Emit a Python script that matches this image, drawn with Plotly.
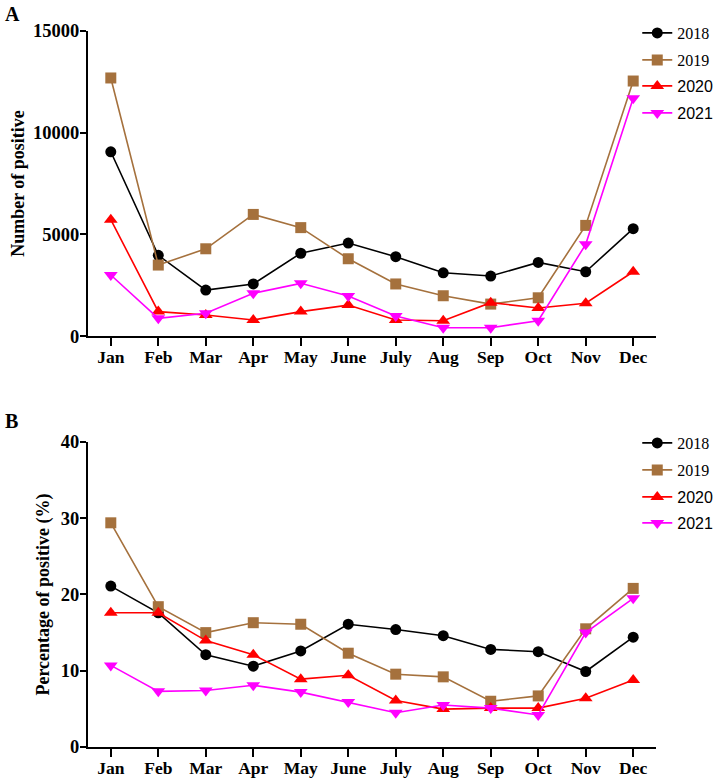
import plotly.graph_objects as go
from plotly.subplots import make_subplots

months = ['Jan', 'Feb', 'Mar', 'Apr', 'May', 'June', 'July', 'Aug', 'Sep', 'Oct', 'Nov', 'Dec']
years = ['2018', '2019', '2020', '2021']

# panel A: number of positive
count_2018 = [9060, 3970, 2260, 2560, 4070, 4570, 3900, 3110, 2950, 3620, 3160, 5280]
count_2019 = [12690, 3490, 4290, 5980, 5330, 3800, 2560, 1980, 1570, 1880, 5440, 12540]
count_2020 = [5720, 1200, 1030, 790, 1200, 1520, 790, 750, 1640, 1380, 1610, 3160]
count_2021 = [3000, 870, 1120, 2100, 2590, 1970, 980, 410, 410, 750, 4510, 11690]

# panel B: percentage of positive
pct_2018 = [21.1, 17.6, 12.1, 10.6, 12.6, 16.1, 15.4, 14.6, 12.8, 12.5, 9.9, 14.4]
pct_2019 = [29.4, 18.4, 15.0, 16.3, 16.1, 12.3, 9.55, 9.2, 6.0, 6.7, 15.5, 20.8]
pct_2020 = [17.6, 17.6, 13.95, 12.1, 8.9, 9.4, 6.1, 4.97, 5.1, 5.1, 6.4, 8.8]
pct_2021 = [10.7, 7.3, 7.4, 8.1, 7.2, 5.9, 4.5, 5.5, 5.1, 4.2, 15.0, 19.5]

counts = [count_2018, count_2019, count_2020, count_2021]
pcts = [pct_2018, pct_2019, pct_2020, pct_2021]

line_colors = ['black', '#A5713D', '#FF0000', '#FF00FF']
symbols = ['circle', 'square', 'triangle-up', 'triangle-down']
sizes = [11, 11, 12, 12]
serif = 'Liberation Serif, Times New Roman, serif'
sans = 'Liberation Sans, Arial, sans-serif'
# first two years are set in serif, last two in sans, like the original figure
legend_fonts = [serif, serif, sans, sans]

fig = make_subplots(rows=2, cols=1, vertical_spacing=0.148)

# one legend per entry so each can get its own font
legend_ids_a = ['legend', 'legend2', 'legend3', 'legend4']
legend_ids_b = ['legend5', 'legend6', 'legend7', 'legend8']

for i, yr in enumerate(years):
    fig.add_trace(go.Scatter(x=months, y=counts[i], name=yr, mode='lines+markers',
                             line=dict(color=line_colors[i], width=1.6),
                             marker=dict(symbol=symbols[i], size=sizes[i], color=line_colors[i]),
                             legend=legend_ids_a[i], showlegend=True), row=1, col=1)
    fig.add_trace(go.Scatter(x=months, y=pcts[i], name=yr, mode='lines+markers',
                             line=dict(color=line_colors[i], width=1.6),
                             marker=dict(symbol=symbols[i], size=sizes[i], color=line_colors[i]),
                             legend=legend_ids_b[i], showlegend=True), row=2, col=1)

axis_style = dict(showline=True, linecolor='black', linewidth=2, ticks='outside',
                  tickcolor='black', tickwidth=2, showgrid=False, zeroline=False, automargin=False)

fig.update_xaxes(range=[-0.48, 11.48], ticklen=8, ticklabelstandoff=-4,
                 tickfont=dict(family=serif, size=17.5, color='black', weight='bold'), **axis_style)
fig.update_yaxes(ticklen=6, ticklabelstandoff=-3, tickformat='d',
                 tickfont=dict(family=serif, size=18.5, color='black', weight='bold'), **axis_style)
fig.update_yaxes(range=[0, 15000], tickvals=[0, 5000, 10000, 15000], row=1, col=1,
                 title=dict(text='<b>Number of positive</b>', font=dict(family=serif, size=18, color='black'),
                            standoff=4))
fig.update_yaxes(range=[0, 40], tickvals=[0, 10, 20, 30, 40], row=2, col=1,
                 title=dict(text='<b>Percentage of positive (%)</b>', font=dict(family=serif, size=18, color='black'),
                            standoff=6))

# legend item centres in pixels, converted to paper fractions of the plot area
plot_top, plot_bottom = 31, 747
legend_px_a = [33, 60, 86, 113]
legend_px_b = [443, 470, 497, 523]
legends = {}
for ids, pxs in [(legend_ids_a, legend_px_a), (legend_ids_b, legend_px_b)]:
    for i, (lid, py) in enumerate(zip(ids, pxs)):
        legends[lid] = dict(x=0.967, xanchor='left', y=(plot_bottom - py) / (plot_bottom - plot_top),
                            yanchor='middle', bgcolor='rgba(0,0,0,0)', itemwidth=30,
                            font=dict(family=legend_fonts[i], size=16, color='black'))

fig.update_layout(
    width=714, height=779,
    showlegend=True,
    margin=dict(l=88, r=58, t=31, b=32, autoexpand=False),
    plot_bgcolor='white', paper_bgcolor='white',
    annotations=[
        dict(text='<b>A</b>', x=-0.15, y=1.024, xref='paper', yref='paper', showarrow=False,
             xanchor='left', yanchor='middle', font=dict(family=serif, size=20, color='black')),
        dict(text='<b>B</b>', x=-0.15, y=0.456, xref='paper', yref='paper', showarrow=False,
             xanchor='left', yanchor='middle', font=dict(family=serif, size=20, color='black')),
    ],
    **legends,
)

# drop the browser's default body margin so the figure sits at the page corner
fig.write_html('out.html', config={'displayModeBar': False},
               post_script="document.body.style.margin = '0';")
